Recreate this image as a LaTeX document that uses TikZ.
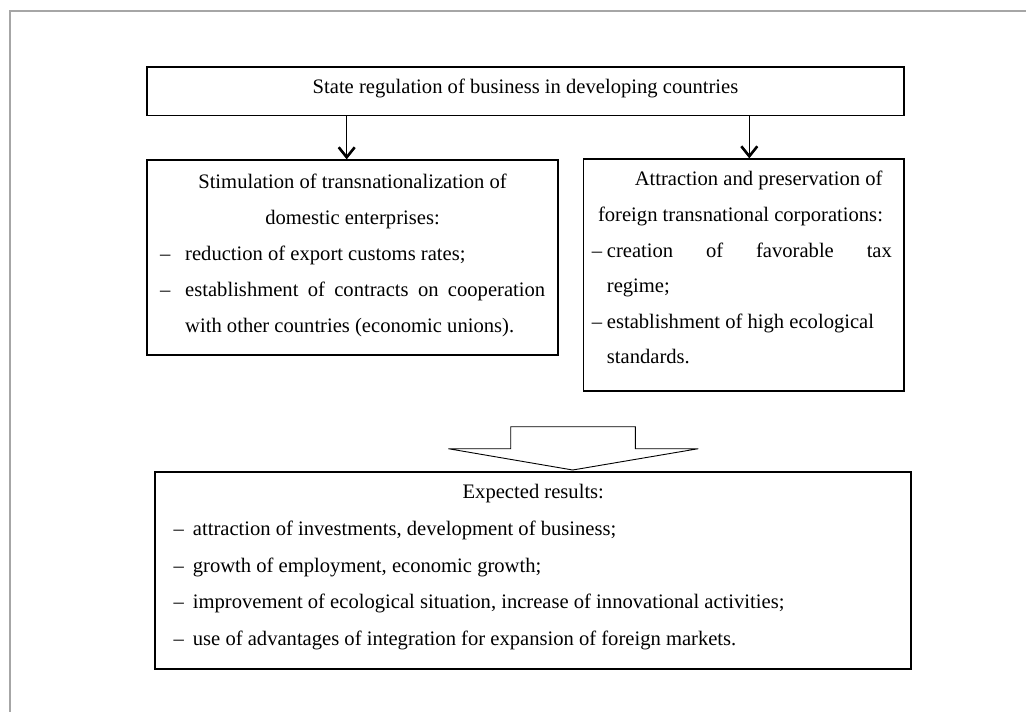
\documentclass[tikz,border=0pt]{standalone}
\usepackage{fontspec}
\setmainfont{Liberation Serif}
\usetikzlibrary{arrows.meta}
\newcommand\diafs{\fontsize{20.6}{24}\selectfont}
\begin{document}
\begin{tikzpicture}[x=1pt,y=-1pt,
  box/.style={draw=black,line width=1.3pt,rectangle,inner sep=0pt},
  txt/.style={inner sep=0pt,anchor=base,font=\diafs},
  txtw/.style={inner sep=0pt,anchor=base west,font=\diafs},
  arr/.style={line width=1.3pt,-{Straight Barb[length=10pt,width=16pt,line width=2.6pt]}},
  blockarrow/.style={draw=black,line width=0.9pt,line join=miter}]
\useasboundingbox (0,0) rectangle (1026,712);
% outer frame
\draw[gray!70,line width=1.2pt] (10,712) -- (10,11) -- (1026,11);
% boxes
\node[box,minimum width=757pt,minimum height=48.5pt] (top) at (525.5,91.2) {};
\node[box,minimum width=411pt,minimum height=195pt] (lbox) at (352.5,257.5) {};
\node[box,minimum width=320.7pt,minimum height=232pt] (rbox) at (743.6,275) {};
\node[box,minimum width=756pt,minimum height=197pt] (bbox) at (533,570.5) {};
% arrows
\coordinate (c1) at (346.7,0);
\coordinate (c2) at (749.3,0);
\draw[arr] (c1 |- top.south) -- (c1 |- lbox.north);
\draw[arr] (c2 |- top.south) -- (c2 |- rbox.north);
% block arrow
\draw[blockarrow] (510.7,426.7) -- (635.3,426.7) -- (635.3,448.7) -- (698.3,448.7)
  -- (572.7,470) -- (448.3,448.7) -- (510.7,448.7) -- cycle;
% top text
\node[txt] (t0) at (525.5,93) {State regulation of business in developing countries};
% left box text
\node[txt] (l1) at (352.5,188) {Stimulation of transnationalization of};
\node[txt] (l2) at (352.5,224) {domestic enterprises:};
\node[txtw] (l3d) at (160,260) {–};
\node[txtw] (l3) at (185,260) {reduction of export customs rates;};
\node[txtw] (l4d) at (160,296) {–};
\node[txtw] (l4) at (185,296) {\makebox[360pt][s]{establishment of contracts on cooperation}};
\node[txtw] (l5) at (185,332.5) {with other countries (economic unions).};
% right box text
\node[txt] (r1) at (758.6,185.5) {Attraction and preservation of};
\node[txt] (r2) at (740.5,221.5) {foreign transnational corporations:};
\node[txtw] (r3d) at (591.7,257.5) {–};
\node[txtw] (r3) at (606.7,257.5) {\makebox[285pt][s]{creation of favorable tax}};
\node[txtw] (r4) at (606.7,292.5) {regime;};
\node[txtw] (r5d) at (591.7,328.5) {–};
\node[txtw] (r5) at (606.7,328.5) {establishment of high ecological};
\node[txtw] (r6) at (606.7,363.5) {standards.};
% bottom box text
\node[txt] (b0) at (533.3,498.5) {Expected results:};
\node[txtw] (b1d) at (173.3,535.5) {–};
\node[txtw] (b1) at (192.7,535.5) {attraction of investments, development of business;};
\node[txtw] (b2d) at (173.3,572) {–};
\node[txtw] (b2) at (192.7,572) {growth of employment, economic growth;};
\node[txtw] (b3d) at (173.3,608.5) {–};
\node[txtw] (b3) at (192.7,608.5) {improvement of ecological situation, increase of innovational activities;};
\node[txtw] (b4d) at (173.3,645.5) {–};
\node[txtw] (b4) at (192.7,645.5) {use of advantages of integration for expansion of foreign markets.};
\end{tikzpicture}
\end{document}
